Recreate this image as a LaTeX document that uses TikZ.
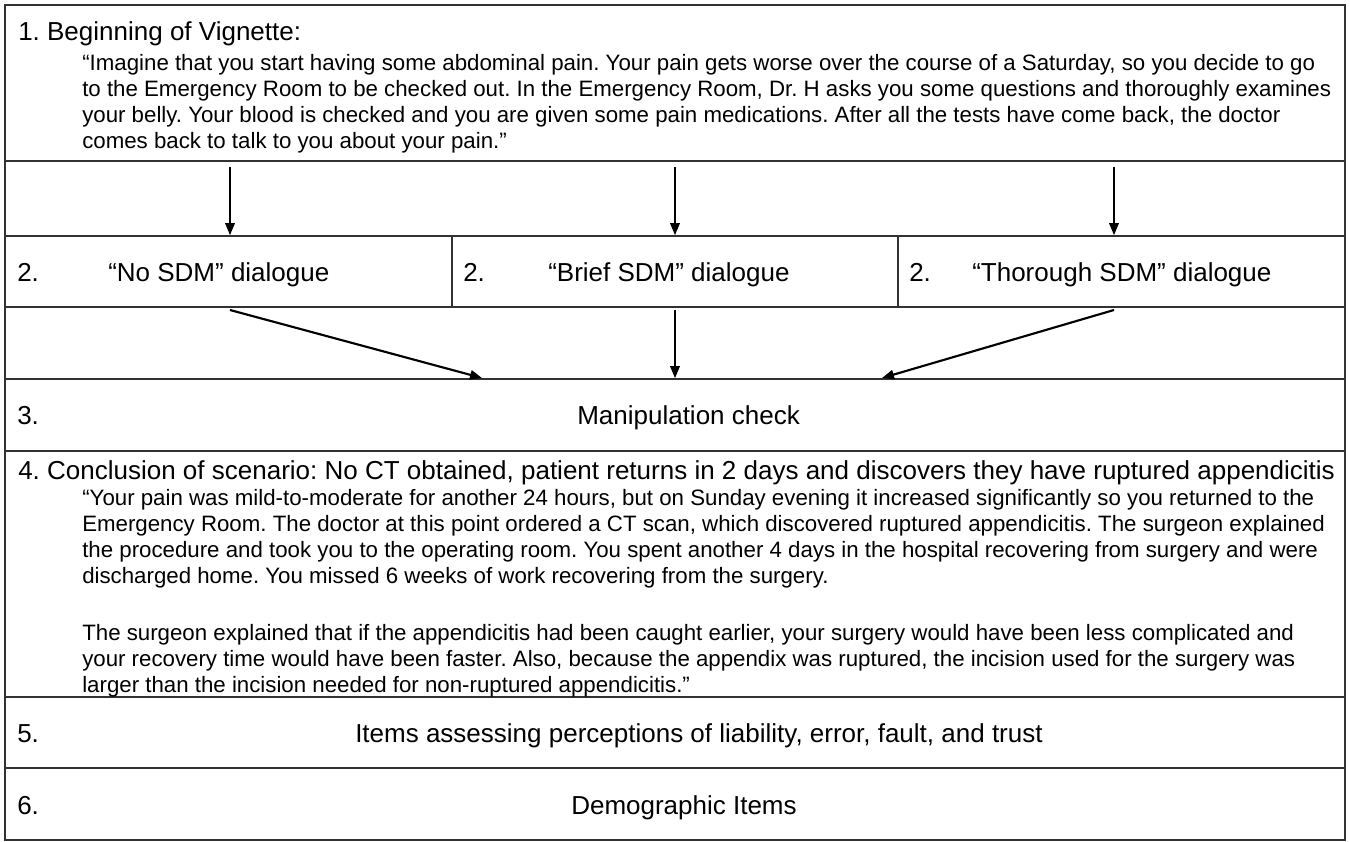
\documentclass[tikz,border=0pt]{standalone}
\usepackage{fontspec}
\setmainfont{Liberation Sans}
\usetikzlibrary{arrows.meta,fit,calc}
\definecolor{linegray}{RGB}{50,50,50}
\newcommand\ttlfnt{\fontsize{19.5}{23}\selectfont}
\newcommand\bdyfnt{\fontsize{16.7}{19.55}\selectfont}
\frenchspacing
\begin{document}
\begin{tikzpicture}[x=0.75pt,y=-0.75pt,
  cellbox/.style={draw=linegray, line width=1.15pt, inner sep=0pt},
  frame/.style={draw=linegray, line width=1.6pt},
  arr/.style={-{Triangle[length=9pt,width=7pt]}, line width=1.6pt, black},
  ttl/.style={anchor=base west, inner sep=0pt, font=\ttlfnt},
  bdy/.style={anchor=base west, inner sep=0pt, font=\bdyfnt}]
\useasboundingbox (0,0) rectangle (1350,842);
% cells
\node[cellbox, fit={(5,5)(1345,161)}] (r1) {};
\node[cellbox, fit={(5,161)(1345,236)}] (g1) {};
\node[cellbox, fit={(5,236)(452,307)}] (c2a) {};
\node[cellbox, fit={(452,236)(898,307)}] (c2b) {};
\node[cellbox, fit={(898,236)(1345,307)}] (c2c) {};
\node[cellbox, fit={(5,307)(1345,379)}] (g2) {};
\node[cellbox, fit={(5,379)(1345,451)}] (r3) {};
\node[cellbox, fit={(5,451)(1345,697)}] (r4) {};
\node[cellbox, fit={(5,697)(1345,768)}] (r5) {};
\node[cellbox, fit={(5,768)(1345,840)}] (r6) {};
\draw[frame] (5,5) rectangle (1345,840);
% row 1
\node[ttl] (t1) at (18,41) {1. Beginning of Vignette:};
\node[bdy] (b1) at (82,70) {\begin{tabular}[t]{@{}l@{}}
“Imagine that you start having some abdominal pain. Your pain gets worse over the course of a Saturday, so you decide to go\\
to the Emergency Room to be checked out. In the Emergency Room, Dr. H asks you some questions and thoroughly examines\\
your belly. Your blood is checked and you are given some pain medications. After all the tests have come back, the doctor\\
comes back to talk to you about your pain.”
\end{tabular}};
% row 2
\node[ttl] (n2a) at (17,281) {2.};
\node[ttl] (l2a) at (108,281) {“No SDM” dialogue};
\node[ttl] (n2b) at (463,281) {2.};
\node[ttl] (l2b) at (548,281) {“Brief SDM” dialogue};
\node[ttl] (n2c) at (909,281) {2.};
\node[ttl] (l2c) at (972,281) {“Thorough SDM” dialogue};
% row 3
\node[ttl] (n3) at (17,424) {3.};
\node[ttl] (l3) at (577,424) {Manipulation check};
% row 4
\node[ttl] (t4) at (18,479) {4. Conclusion of scenario: No CT obtained, patient returns in 2 days and discovers they have ruptured appendicitis};
\node[bdy] (b4) at (82,505) {\begin{tabular}[t]{@{}l@{}}
“Your pain was mild-to-moderate for another 24 hours, but on Sunday evening it increased significantly so you returned to the\\
Emergency Room. The doctor at this point ordered a CT scan, which discovered ruptured appendicitis. The surgeon explained\\
the procedure and took you to the operating room. You spent another 4 days in the hospital recovering from surgery and were\\
discharged home. You missed 6 weeks of work recovering from the surgery.\\[23.5pt]
The surgeon explained that if the appendicitis had been caught earlier, your surgery would have been less complicated and\\
your recovery time would have been faster. Also, because the appendix was ruptured, the incision used for the surgery was\\
larger than the incision needed for non-ruptured appendicitis.”
\end{tabular}};
% row 5, 6
\node[ttl] (n5) at (17,742) {5.};
\node[ttl] (l5) at (355,742) {Items assessing perceptions of liability, error, fault, and trust};
\node[ttl] (n6) at (17,814) {6.};
\node[ttl] (l6) at (571,814) {Demographic Items};
% arrows
\coordinate (s1) at (230,167);
\coordinate (s2) at (675,167);
\coordinate (s3) at (1114,167);
\draw[arr] (s1) -- (s1 |- c2a.north);
\draw[arr] (s2) -- (s2 |- c2b.north);
\draw[arr] (s3) -- (s3 |- c2c.north);
\coordinate (u1) at (230,310);
\coordinate (u2) at (675,310);
\coordinate (u3) at (1114,310);
\coordinate (e1) at (482,378);
\coordinate (e3) at (882,378);
\draw[arr] (u1) -- (e1);
\draw[arr] (u2) -- (u2 |- r3.north);
\draw[arr] (u3) -- (e3);
\end{tikzpicture}
\end{document}
